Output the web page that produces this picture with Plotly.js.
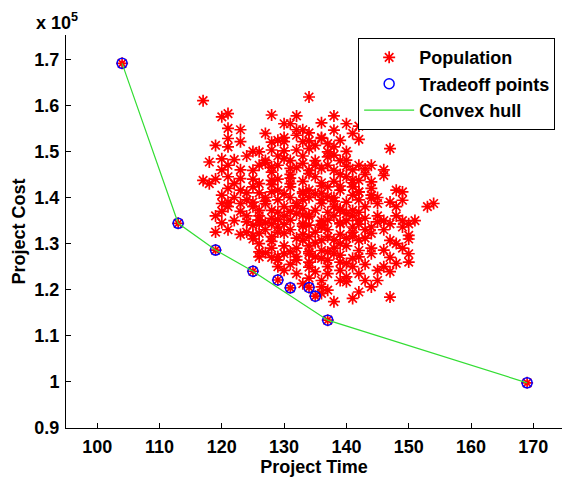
<!DOCTYPE html>
<html>
<head>
<meta charset="utf-8">
<script src="https://cdn.plot.ly/plotly-3.0.1.min.js"></script>
<style>html,body{margin:0;padding:0;background:#fff;}#chart{width:562px;height:477px;}</style>
</head>
<body>
<div id="chart"></div>
<script>
// Population: project time (days) and project cost (x 1e5)
const popTime = [
117,134,120,121,128,132,138,121,123,127,130,132,133,136,138,140,142,121,123,119,121,
129,130,133,134,136,137,139,141,142,147,118,120,122,124,126,128,130,132,134,135,137,138,140,142,
117,121,123,125,126,128,129,131,133,134,136,138,140,142,144,146,
120,121,123,125,126,128,129,131,133,134,136,137,139,141,142,144,148,149,
120,121,123,125,127,128,130,132,133,135,136,138,140,141,143,145,148,149,153,154,
120,124,126,128,129,131,133,134,136,137,139,141,142,144,145,147,149,150,
124,126,128,130,133,134,136,137,139,141,142,144,147,148,150,
126,126,129,130,132,134,135,137,138,140,142,144,146,148,150,150,
130,132,134,135,137,139,140,142,145,147,
119,133,136,137,140,142,144,141,147,138,136,
128,129,131,133,135,136,138,139,141,143,
127,129,131,133,134,136,138,140,142,144,
126,128,130,132,134,136,138,140,141,143,145,
127,129,131,133,135,137,139,141,143,146,
128,130,132,134,136,138,140,142,144,
129,131,134,137,139,141,143,
123,125,124,122,125,123,124,126,127,125,129,131,133,135,137,139,
130,132,134,136,131,128,138,140,144,146,145,147,146,148,149,151,150,149,147,146,145,143,139,136,134,
121,120,119,118,122,121,120,119,122,121,123,125,126,127,128,125,
127,128,130,131,132,133,135,136,137,139,140,141,143,
126,127,129,130,131,132,134,135,137,138,139,141,142,144,
125,127,128,130,132,133,135,136,138,139,140,142,143,
124,126,128,129,131,133,134,136,137,139,141,142,
129,131,132,134,136,137,139,141,
104,113,119,125,129,131,134,135,137,169
];
const popCost = [
1.610,1.618,1.575,1.582,1.579,1.577,1.577,1.550,1.547,1.539,1.560,1.547,1.547,1.562,1.546,1.560,1.555,1.528,1.521,1.513,1.510,
1.524,1.521,1.521,1.523,1.528,1.517,1.524,1.539,1.526,1.506,1.477,1.484,1.482,1.490,1.499,1.503,1.501,1.503,1.506,1.513,1.499,1.492,1.481,1.470,
1.437,1.445,1.441,1.459,1.470,1.466,1.470,1.463,1.474,1.459,1.463,1.459,1.445,1.437,1.434,1.448,
1.405,1.420,1.416,1.423,1.430,1.437,1.416,1.423,1.409,1.416,1.409,1.423,1.416,1.423,1.412,1.405,1.416,1.412,
1.387,1.380,1.387,1.380,1.387,1.372,1.380,1.387,1.376,1.372,1.387,1.380,1.365,1.372,1.380,1.387,1.380,1.394,1.380,1.387,
1.345,1.347,1.351,1.343,1.336,1.351,1.343,1.358,1.336,1.351,1.343,1.336,1.351,1.336,1.347,1.343,1.336,1.343,
1.325,1.322,1.315,1.322,1.307,1.315,1.307,1.315,1.300,1.315,1.307,1.322,1.307,1.300,1.318,
1.282,1.271,1.264,1.278,1.264,1.278,1.271,1.264,1.278,1.257,1.271,1.278,1.286,1.257,1.278,1.260,
1.242,1.235,1.249,1.239,1.235,1.242,1.228,1.235,1.242,1.239,
1.325,1.213,1.206,1.199,1.217,1.195,1.206,1.181,1.184,1.174,1.192,
1.455,1.440,1.450,1.435,1.445,1.425,1.435,1.450,1.460,1.450,
1.400,1.395,1.400,1.395,1.400,1.395,1.400,1.390,1.395,1.420,
1.360,1.355,1.360,1.365,1.340,1.350,1.360,1.350,1.360,1.355,1.360,
1.330,1.325,1.330,1.320,1.325,1.330,1.320,1.325,1.330,1.330,
1.290,1.295,1.290,1.295,1.285,1.290,1.295,1.285,1.290,
1.250,1.255,1.260,1.250,1.260,1.250,1.255,
1.460,1.440,1.410,1.400,1.390,1.370,1.360,1.410,1.480,1.500,1.490,1.480,1.490,1.480,1.470,1.480,
1.530,1.535,1.540,1.530,1.560,1.520,1.510,1.500,1.470,1.460,1.400,1.390,1.350,1.360,1.350,1.350,1.310,1.290,1.270,1.250,1.220,1.220,1.220,1.220,1.225,
1.470,1.460,1.440,1.430,1.430,1.390,1.370,1.360,1.350,1.330,1.320,1.310,1.300,1.280,1.270,1.340,
1.475,1.428,1.485,1.430,1.465,1.412,1.470,1.432,1.488,1.425,1.468,1.438,1.462,
1.372,1.392,1.368,1.408,1.370,1.382,1.362,1.408,1.368,1.392,1.375,1.405,1.368,1.398,
1.318,1.345,1.305,1.342,1.312,1.338,1.302,1.340,1.308,1.345,1.312,1.342,1.312,
1.395,1.342,1.412,1.352,1.442,1.362,1.452,1.342,1.402,1.372,1.432,1.412,
1.272,1.282,1.272,1.282,1.268,1.282,1.275,1.268,
1.691,1.344,1.286,1.240,1.221,1.204,1.205,1.186,1.134,0.998
];
// Tradeoff (non-dominated) points
const tradeTime = [104,113,119,125,129,131,134,135,137,169];
const tradeCost = [1.691,1.344,1.286,1.240,1.221,1.204,1.205,1.186,1.134,0.998];
// Convex hull vertices
const hullTime = [104,113,119,125,137,169];
const hullCost = [1.691,1.344,1.286,1.240,1.134,0.998];

const yTickVals = [0.9,1.0,1.1,1.2,1.3,1.4,1.5,1.6,1.7];
const yTickText = ['0.9','1','1.1','1.2','1.3','1.4','1.5','1.6','1.7'];
const xTickVals = [100,110,120,130,140,150,160,170];

const F = 'Arial, "Liberation Sans", Helvetica, sans-serif';
const boldFont = {family: F, size: 18, color: '#000', weight: 'bold'};

const traces = [
  {x: popTime, y: popCost, mode: 'markers', type: 'scatter', name: 'Population',
   marker: {symbol: 'asterisk-open', size: 10, color: 'red', line: {color: 'red', width: 1.7}}},
  {x: tradeTime, y: tradeCost, mode: 'markers', type: 'scatter', name: 'Tradeoff points',
   marker: {symbol: 'circle-open', size: 10, color: 'blue', line: {color: 'blue', width: 1.5}}},
  {x: hullTime, y: hullCost, mode: 'lines', type: 'scatter', name: 'Convex hull',
   line: {color: '#33dd33', width: 1.2}}
];

const layout = {
  width: 562, height: 477,
  margin: {l: 66, r: 0, t: 35, b: 49, pad: 0},
  paper_bgcolor: '#fff', plot_bgcolor: '#fff',
  showlegend: true,
  xaxis: {range: [95, 174.6], tickvals: xTickVals, ticks: 'inside', ticklen: 5, tickcolor: '#000',
    showline: true, linecolor: '#000', linewidth: 1, showgrid: false, zeroline: false, mirror: false,
    ticklabelstandoff: 2,
    tickfont: boldFont, title: {text: 'Project Time', font: boldFont, standoff: 2}},
  yaxis: {range: [0.9, 1.7525], tickvals: yTickVals, ticktext: yTickText, ticks: 'inside', ticklen: 5, tickcolor: '#000',
    showline: true, linecolor: '#000', linewidth: 1, showgrid: false, zeroline: false, mirror: false,
    ticklabelstandoff: 2,
    tickfont: boldFont, title: {text: 'Project Cost', font: boldFont, standoff: 4}},
  legend: {x: 0.589, y: 0.992, xanchor: 'left', yanchor: 'top', bgcolor: '#fff',
    bordercolor: '#000', borderwidth: 1, font: boldFont, tracegroupgap: 0, itemwidth: 50},
  annotations: [{text: 'x 10<sup>5</sup>', xref: 'paper', yref: 'paper', x: -0.065, y: 1.0, xanchor: 'left', yanchor: 'bottom',
    showarrow: false, font: boldFont}]
};

Plotly.newPlot('chart', traces, layout, {displayModeBar: false, staticPlot: true});
</script>
</body>
</html>
